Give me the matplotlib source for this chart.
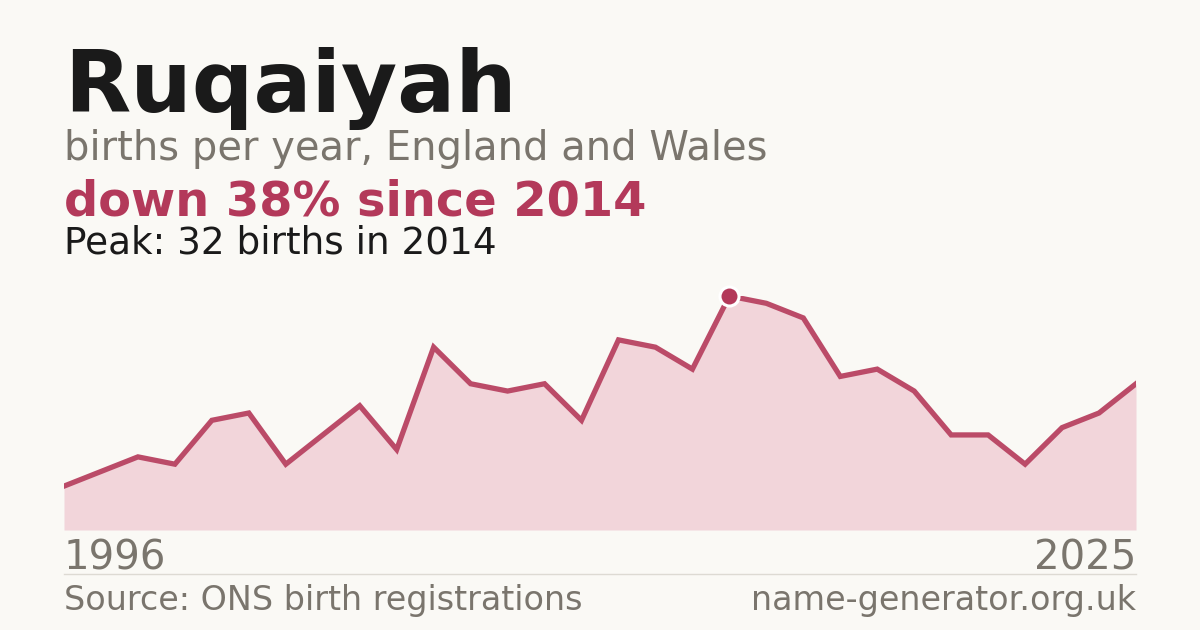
import matplotlib.pyplot as plt

years = list(range(1996, 2026))
births = [6, 8, 10, 9, 15, 16, 9, 13, 17, 11, 25, 20, 19, 20, 15,
          26, 25, 22, 32, 31, 29, 21, 22, 19, 13, 13, 9, 14, 16, 20]
peak_year = 2014
peak_value = 32

bg = '#faf9f5'
red = '#b3395a'
grey = '#7a756d'

W, H = 1200, 630
fig = plt.figure(figsize=(W / 100, H / 100), dpi=100)
fig.patch.set_facecolor(bg)


def fy(py):
    return 1 - py / H


# plot area: x 64..1136 px, baseline 530 px, peak at 296 px
ax = fig.add_axes([64 / W, fy(530), (1136 - 64) / W, (530 - 296) / H])
ax.set_facecolor(bg)
ax.fill_between(years, births, 0, color='#f2d5da', lw=0)
ax.plot(years, births, color='#bb4b68', lw=3.8, solid_joinstyle='miter')
ax.plot([peak_year], [peak_value], 'o', ms=13.7, mfc=red, mec='white', mew=2.2,
        clip_on=False, zorder=5)
ax.set_xlim(years[0], years[-1])
ax.set_ylim(0, peak_value)
ax.axis('off')

# header text
fig.text(64 / W, fy(112), 'Ruqaiyah', fontsize=62, fontweight='bold',
         color='#1a1a1a', va='baseline')
fig.text(64 / W, fy(160), 'births per year, England and Wales', fontsize=28.8,
         color=grey, va='baseline')
fig.text(64 / W, fy(215), 'down 38% since 2014', fontsize=34.5, fontweight='bold',
         color=red, va='baseline')
fig.text(64 / W, fy(254), 'Peak: 32 births in 2014', fontsize=26.9,
         color='#1a1a1a', va='baseline')

# axis end labels
fig.text(64 / W, fy(570), str(years[0]), fontsize=28.9, color=grey, va='baseline')
fig.text(1136 / W, fy(570), str(years[-1]), fontsize=28.9, color=grey,
         va='baseline', ha='right')

# separator and footer
fig.add_artist(plt.Line2D([64 / W, 1136 / W], [fy(574), fy(574)],
                          color='#dddad3', lw=1))
fig.text(64 / W, fy(610), 'Source: ONS birth registrations', fontsize=24,
         color=grey, va='baseline')
fig.text(1136 / W, fy(610), 'name-generator.org.uk', fontsize=24, color=grey,
         va='baseline', ha='right')

fig.savefig('out.png', dpi=100, facecolor=fig.get_facecolor())
